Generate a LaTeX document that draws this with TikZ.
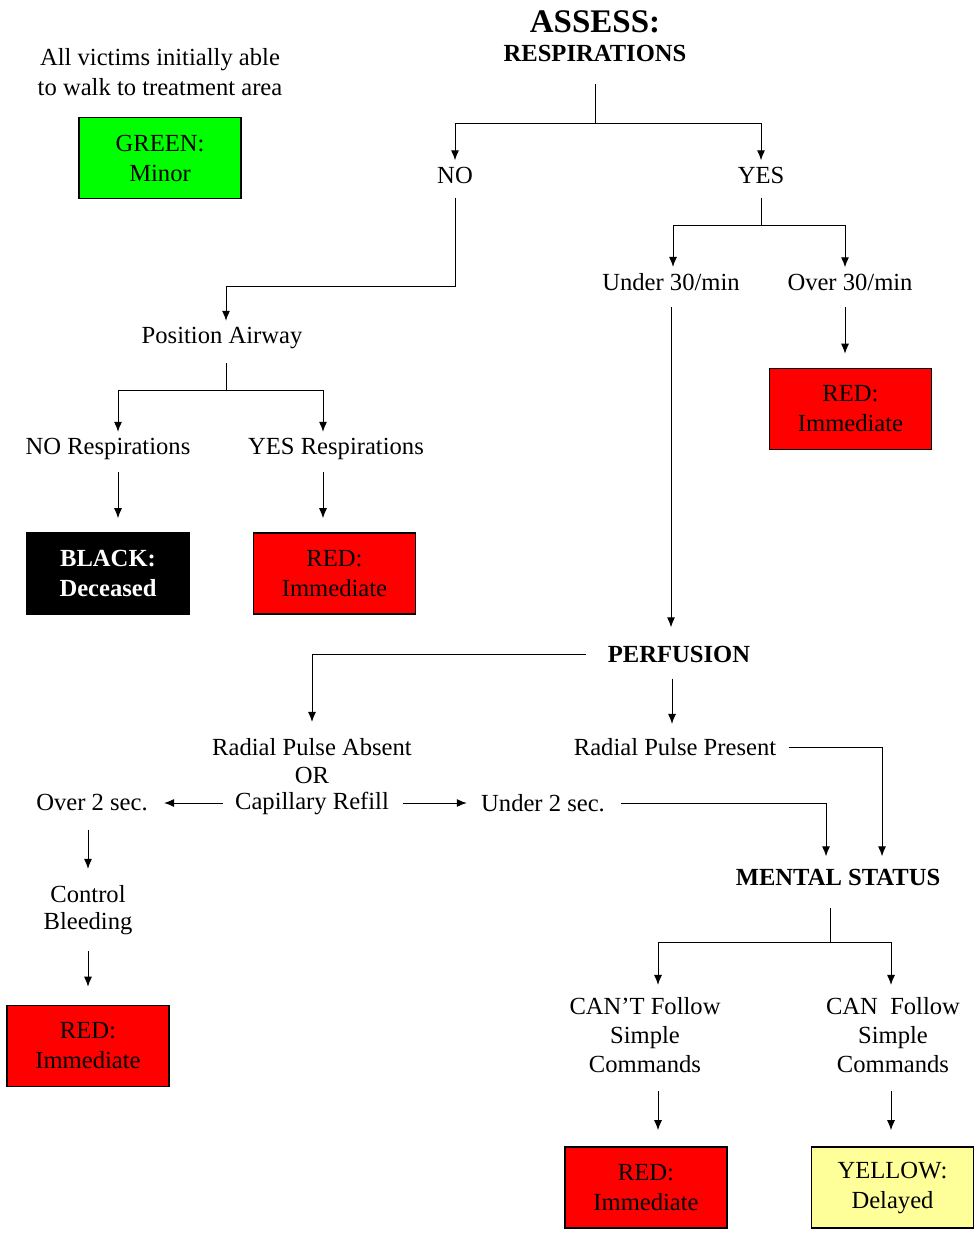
\documentclass[tikz,border=0pt]{standalone}
\usepackage{fontspec}
\setmainfont{Liberation Serif}
\usetikzlibrary{arrows.meta}
\definecolor{tgreen}{RGB}{0,255,0}
\definecolor{tred}{RGB}{255,0,0}
\definecolor{tyellow}{RGB}{255,255,153}
\tikzset{
 lbl/.style={align=center,inner sep=3pt,font=\fontsize{12.3}{15}\selectfont},
 hdr/.style={lbl,font=\fontsize{12.3}{15}\selectfont\bfseries},
 tag/.style={draw,line width=0.8pt,minimum width=81pt,minimum height=40.5pt,inner sep=0pt,align=center,font=\fontsize{12.3}{15}\selectfont},
 ln/.style={line width=0.5pt},
 arr/.style={ln,-{Latex[length=5pt,width=4pt]}}
}
\begin{document}
\begin{tikzpicture}[x=0.5pt,y=-0.5pt]
\useasboundingbox (0,0) rectangle (973,1234);
\node[hdr,font=\fontsize{16.5}{20}\selectfont\bfseries] (assess) at (595,22) {ASSESS:};
\node[hdr] (resp) at (595,53) {RESPIRATIONS};
\node[lbl] (walk) at (160,72) {All victims initially able\\to walk to treatment area};
\node[tag,fill=tgreen] (green) at (160,158) {GREEN:\\Minor};
\node[lbl] (no) at (455,175) {NO}; \node[lbl] (yes) at (761,175) {YES};
\node[lbl] (airway) at (222,338) {Position Airway};
\node[lbl] (nor) at (108,449) {NO Respirations}; \node[lbl] (yesr) at (336,449) {YES Respirations};
\node[tag,fill=black,text=white,font=\fontsize{12.3}{15}\selectfont\bfseries] (black) at (108,573.5) {BLACK:\\Deceased};
\node[tag,fill=tred] (redb) at (334.5,573.5) {RED:\\Immediate};
\node[lbl] (under30) at (671,282) {Under 30/min}; \node[lbl] (over30) at (850,282) {Over 30/min};
\node[tag,fill=tred] (reda) at (850.5,409) {RED:\\Immediate};
\node[hdr] (perf) at (679,654) {PERFUSION};
\node[lbl] (absent) at (312,747) {Radial Pulse Absent}; \node[lbl] (or) at (312,775) {OR};
\node[lbl] (refill) at (312,803) {Capillary Refill};
\node[lbl] (present) at (675,747) {Radial Pulse Present};
\node[lbl] (over2) at (92,803) {Over 2 sec.}; \node[lbl] (under2) at (543,803) {Under 2 sec.};
\node[lbl,font=\fontsize{12.3}{13.5}\selectfont] (control) at (88,910) {Control\\Bleeding};
\node[tag,fill=tred] (redc) at (88,1046) {RED:\\Immediate};
\node[hdr] (mental) at (838,877) {MENTAL STATUS};
\node[lbl,font=\fontsize{12.3}{14.5}\selectfont] (cant) at (645,1035) {CAN'T Follow\\Simple\\Commands};
\node[lbl,font=\fontsize{12.3}{14.5}\selectfont] (can) at (893,1035) {CAN\ \ Follow\\Simple\\Commands};
\node[tag,fill=tred] (redd) at (646,1187.5) {RED:\\Immediate};
\node[tag,fill=tyellow] (yellow) at (892.5,1187.5) {YELLOW:\\Delayed};
\coordinate (j1) at (595,124); \coordinate (j2) at (455,287); \coordinate (j3) at (226,391);
\coordinate (j4) at (761,226); \coordinate (j5) at (830,942);
\draw[ln,shorten <=8pt] (resp.south) -- (j1);
\draw[arr] (j1) -| (no.north); \draw[arr] (j1) -| (yes.north);
\draw[arr,shorten <=4pt] (no.south) -- (j2) -| ([xshift=2pt]airway.north);
\draw[ln,shorten <=4pt] (j3 |- airway.south) -- (j3);
\draw[arr] (j3) -| ([xshift=5pt]nor.north); \draw[arr] (j3) -| ([xshift=-6.5pt]yesr.north);
\draw[arr,shorten <=3pt,shorten >=7pt] ([xshift=5pt]nor.south) -- ([xshift=5pt]nor.south |- black.north);
\draw[arr,shorten <=3pt,shorten >=7pt] ([xshift=-6.5pt]yesr.south) -- ([xshift=-6.5pt]yesr.south |- redb.north);
\draw[ln,shorten <=4pt] (yes.south) -- (j4);
\draw[arr] (j4) -| ([xshift=1pt]under30.north); \draw[arr] (j4) -| ([xshift=-2.5pt]over30.north);
\draw[arr,shorten <=5pt,shorten >=7pt] ([xshift=-2.5pt]over30.south) -- ([xshift=-2.5pt]over30.south |- reda.north);
\draw[arr,shorten <=5pt,shorten >=6pt] (under30.south) -- (under30.south |- perf.north);
\draw[arr,shorten <=8pt,shorten >=5pt] (perf.west) -| (absent.north);
\draw[arr,shorten <=5pt,shorten >=4pt] ([xshift=-3.5pt]perf.south) -- ([xshift=-3.5pt]perf.south |- present.north);
\draw[arr,shorten <=3pt,shorten >=3pt] (present.east) -| ([xshift=22pt]mental.north);
\draw[arr,shorten <=3pt,shorten >=5pt] (refill.west) -- (over2.east);
\draw[arr,shorten <=4pt,shorten >=4pt] (refill.east) -- (under2.west);
\draw[arr,shorten <=5pt,shorten >=3pt] (under2.east) -| ([xshift=-6pt]mental.north);
\draw[arr,shorten <=6pt,shorten >=5pt] ([xshift=-2pt]over2.south) -- ([xshift=-2pt]over2.south |- control.north);
\draw[arr,shorten <=5pt,shorten >=9pt] (control.south) -- (control.south |- redc.north);
\draw[ln,shorten <=8pt] (j5 |- mental.south) -- (j5);
\draw[arr,shorten >=3pt] (j5) -| ([xshift=6.5pt]cant.north); \draw[arr,shorten >=3pt] (j5) -| ([xshift=-1pt]can.north);
\draw[arr,shorten <=6pt,shorten >=8pt] ([xshift=6.5pt]cant.south) -- ([xshift=6.5pt]cant.south |- redd.north);
\draw[arr,shorten <=6pt,shorten >=8pt] ([xshift=-1pt]can.south) -- ([xshift=-1pt]can.south |- yellow.north);
\end{tikzpicture}
\end{document}
